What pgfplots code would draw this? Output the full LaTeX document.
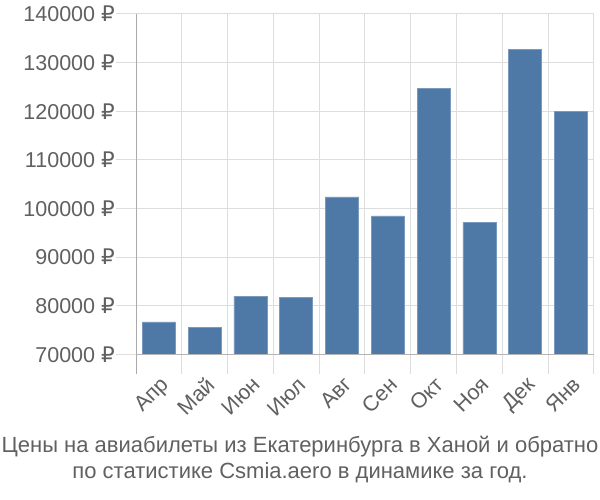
\documentclass[border=0pt]{standalone}
\usepackage{fontspec}
\setmainfont{Liberation Sans}
\newfontfamily\rubfont{DejaVu Sans}
\newcommand{\rub}{{\rubfont ₽}}
\usepackage{pgfplots}
\pgfplotsset{compat=1.18}
\definecolor{barblue}{HTML}{4E79A7}
\definecolor{txt}{HTML}{606060}
\definecolor{gridc}{HTML}{DDDDDD}
\definecolor{axisc}{HTML}{AAAAAA}
\makeatletter
\def\shiftdown#1{\begingroup\pgfkeys{/pgf/fpu=true,/pgf/fpu/output format=fixed}\pgfmathparse{#1-70000}\pgfmath@smuggleone\pgfmathresult\endgroup}
\def\shiftup#1{\begingroup\pgfkeys{/pgf/fpu=true,/pgf/fpu/output format=fixed}\pgfmathparse{#1+70000}\pgfmath@smuggleone\pgfmathresult\endgroup}
\makeatother
\begin{document}
\begin{tikzpicture}
\useasboundingbox (0,0) rectangle (600pt,500pt);
\begin{axis}[
  at={(136pt,126pt)}, anchor=south west,
  scale only axis, width=458pt, height=360pt,
  y coord trafo/.code={\shiftdown{#1}},
  y coord inv trafo/.code={\shiftup{#1}},
  scaled y ticks=false,
  xmin=-0.5, xmax=9.5, ymin=66000, ymax=140000,
  xtick={0,...,9},
  xticklabels={Апр,Май,Июн,Июл,Авг,Сен,Окт,Ноя,Дек,Янв},
  minor xtick={-0.5,0.5,...,9.5},
  xminorgrids, ymajorgrids,
  ytick={70000,80000,90000,100000,110000,120000,130000,140000},
  yticklabels={70000 \rub,80000 \rub,90000 \rub,100000 \rub,110000 \rub,120000 \rub,130000 \rub,140000 \rub},
  axis x line*=bottom,
  axis y line*=left,
  x axis line style={draw=none},
  y axis line style={draw=axisc, line width=1pt, -},
  xtick align=inside,
  ytick align=outside,
  xtick style={draw=none},
  ytick style={draw=gridc, line width=1pt},
  major tick length=20pt,
  minor tick length=0pt,
  grid style={gridc, line width=1pt},
  minor grid style={gridc, line width=1pt},
  tick label style={font=\fontsize{21.5}{24}\selectfont, text=txt},
  yticklabel style={anchor=east, inner sep=1pt},
  xticklabel style={rotate=45, anchor=north east, inner sep=1pt},
  clip=false,
]
\addplot[ybar, bar width=33pt, fill=barblue, draw=barblue!75!white, line width=0.6pt]
coordinates {(0,76700) (1,75500) (2,82000) (3,81700) (4,102400) (5,98500) (6,124700) (7,97100) (8,132700) (9,120000)};
\draw[axisc!80!gridc, line width=1pt] (axis cs:-0.5,70000) -- (axis cs:9.5,70000);
\end{axis}
\node[text=txt, font=\fontsize{22}{26}\selectfont, align=center] at (300pt,40pt)
  {Цены на авиабилеты из Екатеринбурга в Ханой и обратно\\по статистике Csmia.aero в динамике за год.};
\end{tikzpicture}
\end{document}
